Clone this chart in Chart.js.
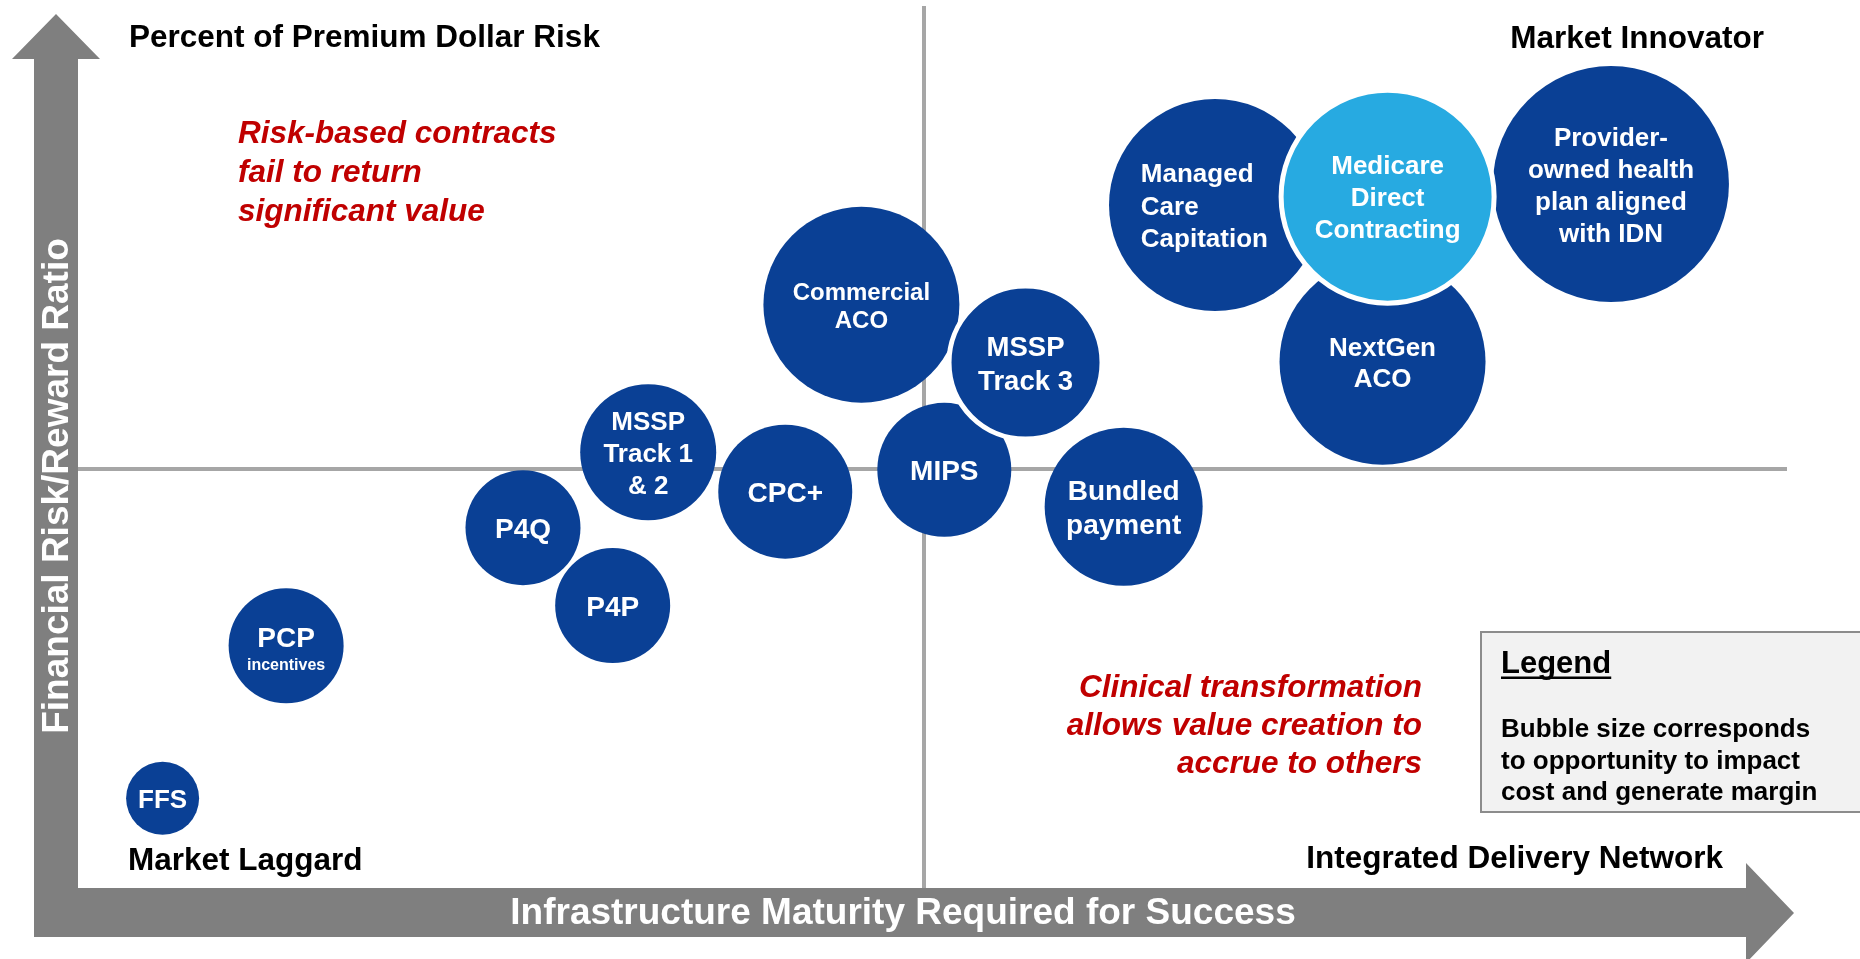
<!DOCTYPE html>
<html>
<head>
<meta charset="utf-8">
<title>Financial risk vs infrastructure maturity</title>
<script src="https://cdn.jsdelivr.net/npm/chart.js@4.4.1/dist/chart.umd.min.js"></script>
<style>
  html, body { margin: 0; padding: 0; background: #fff; }
  #wrap { width: 1860px; height: 959px; position: relative; }
</style>
</head>
<body>
<div id="wrap"><canvas id="riskChart"></canvas></div>
<script>
// payment models, in drawing order (later ones sit on top of earlier ones)
const models = ['FFS', 'PCP incentives', 'P4Q', 'P4P', 'MSSP Track 1 & 2', 'CPC+', 'Commercial ACO',
    'MIPS', 'MSSP Track 3', 'Bundled payment', 'Managed Care Capitation', 'NextGen ACO',
    'Provider-owned health plan aligned with IDN', 'Medicare Direct Contracting'];
const labelLines = [['FFS'], ['PCP', 'incentives'], ['P4Q'], ['P4P'], ['MSSP', 'Track 1', '& 2'], ['CPC+'],
    ['Commercial', 'ACO'], ['MIPS'], ['MSSP', 'Track 3'], ['Bundled', 'payment'], ['Managed', 'Care', 'Capitation'],
    ['NextGen', 'ACO'], ['Provider-', 'owned health', 'plan aligned', 'with IDN'], ['Medicare', 'Direct', 'Contracting']];
// infrastructure maturity required for success (0-100)
const maturity = [5.0, 12.3, 26.3, 31.6, 33.7, 41.8, 46.3, 51.2, 56.0, 61.8, 67.2, 77.1, 90.6, 77.4];
// financial risk/reward ratio (0-100)
const riskRatio = [10.7, 28.9, 43.0, 33.7, 52.0, 47.3, 69.6, 49.9, 62.7, 45.5, 81.5, 62.8, 84.0, 82.5];
// bubble size = opportunity to impact cost and generate margin
const opportunity = [36.5, 57.5, 57.5, 57.5, 68, 67, 98, 67, 76.5, 79, 106, 103, 118, 106.5];

// styles
const BLUE = '#0A4095';
const LIGHT_BLUE = '#27AAE1';
const GREY_ARROW = '#7F7F7F';
const GREY_LINE = '#A6A6A6';
const RED = '#C00000';
const FONT = '"Liberation Sans", Arial, Helvetica, sans-serif';
const bubbleFill = models.map(m => m === 'Medicare Direct Contracting' ? LIGHT_BLUE : BLUE);
const bubbleBorder = models.map(m => (m === 'Medicare Direct Contracting' || m === 'MSSP Track 3') ? 5 : 0);
const labelSize = [[26], [28, 16], [28], [28], [26], [28], [24], [28], [27.5], [28], [26], [26], [26], [26]];
const labelLead = [0, 26.5, 0, 0, 32, 0, 28.5, 0, 34, 34, 32.3, 31.6, 32, 32];
const labelShiftY = [0, 4, 0, 0, 0, 0, 0, 0, 0, 0, 0, 0, 0, 0];
const labelAlignLeft = models.map(m => m === 'Managed Care Capitation');

function text(ctx, str, x, y, font, color, align, baseline) {
    ctx.font = font;
    ctx.fillStyle = color;
    ctx.textAlign = align || 'left';
    ctx.textBaseline = baseline || 'alphabetic';
    ctx.fillText(str, x, y);
}

// arrows, quadrant lines, captions and the legend box, all under the bubbles
const backdropPlugin = {
    id: 'backdrop',
    beforeDatasetsDraw(chart) {
        const ctx = chart.ctx;
        const xs = chart.scales.x, ys = chart.scales.y;
        ctx.save();

        // L-shaped axis arrows
        ctx.fillStyle = GREY_ARROW;
        ctx.beginPath();
        ctx.moveTo(56, 14);
        ctx.lineTo(100, 59);
        ctx.lineTo(78, 59);
        ctx.lineTo(78, 888);
        ctx.lineTo(1746, 888);
        ctx.lineTo(1746, 863);
        ctx.lineTo(1794, 913);
        ctx.lineTo(1746, 963);
        ctx.lineTo(1746, 937);
        ctx.lineTo(34, 937);
        ctx.lineTo(34, 59);
        ctx.lineTo(12, 59);
        ctx.closePath();
        ctx.fill();

        // quadrant split at the middle of both scales
        const midX = xs.getPixelForValue(50), midY = ys.getPixelForValue(50);
        ctx.strokeStyle = GREY_LINE;
        ctx.lineWidth = 4;
        ctx.beginPath();
        ctx.moveTo(midX, 6);
        ctx.lineTo(midX, 888);
        ctx.moveTo(78, midY);
        ctx.lineTo(1787, midY);
        ctx.stroke();

        // axis titles inside the arrows
        text(ctx, 'Infrastructure Maturity Required for Success', 903, 914, 'bold 37px ' + FONT, '#FFFFFF', 'center', 'middle');
        ctx.save();
        ctx.translate(57, 486);
        ctx.rotate(-Math.PI / 2);
        text(ctx, 'Financial Risk/Reward Ratio', 0, 1, 'bold 37px ' + FONT, '#FFFFFF', 'center', 'middle');
        ctx.restore();

        // quadrant captions
        const capFont = 'bold 31.5px ' + FONT;
        text(ctx, 'Percent of Premium Dollar Risk', 129, 47, capFont, '#000');
        text(ctx, 'Market Innovator', 1764, 48, capFont, '#000', 'right');
        text(ctx, 'Market Laggard', 128, 870, capFont, '#000');
        text(ctx, 'Integrated Delivery Network', 1723, 868, capFont, '#000', 'right');

        // red call-outs
        const redFont = 'italic bold 31.5px ' + FONT;
        ['Risk-based contracts', 'fail to return', 'significant value'].forEach((s, i) =>
            text(ctx, s, 238, 143 + i * 38.8, redFont, RED));
        ['Clinical transformation', 'allows value creation to', 'accrue to others'].forEach((s, i) =>
            text(ctx, s, 1422, 697 + i * 38, redFont, RED, 'right'));

        // legend box
        ctx.fillStyle = '#F2F2F2';
        ctx.fillRect(1481, 632, 400, 180);
        ctx.strokeStyle = '#8C8C8C';
        ctx.lineWidth = 2;
        ctx.strokeRect(1481, 632, 400, 180);
        text(ctx, 'Legend', 1501, 673, 'bold 31px ' + FONT, '#000');
        const w = ctx.measureText('Legend').width;
        ctx.fillStyle = '#000';
        ctx.fillRect(1501, 676.5, w, 2.5);
        ['Bubble size corresponds', 'to opportunity to impact', 'cost and generate margin'].forEach((s, i) =>
            text(ctx, s, 1501, 737 + i * 31.5, 'bold 26px ' + FONT, '#000'));

        ctx.restore();
    }
};

// white labels centred on each bubble
const bubbleLabelPlugin = {
    id: 'bubbleLabels',
    afterDatasetsDraw(chart) {
        const ctx = chart.ctx;
        const meta = chart.getDatasetMeta(0);
        ctx.save();
        meta.data.forEach((pt, i) => {
            const lines = labelLines[i];
            const lead = labelLead[i];
            const leftAligned = labelAlignLeft[i];
            let x = pt.x;
            if (leftAligned) x = pt.x - pt.options.radius * 0.7;
            lines.forEach((line, j) => {
                const size = labelSize[i][j] || labelSize[i][0];
                // 'middle' sits a touch high for caps, nudge down
                const y = pt.y + 2.5 + labelShiftY[i] + (j - (lines.length - 1) / 2) * lead;
                text(ctx, line, x, y, 'bold ' + size + 'px ' + FONT, '#FFFFFF', leftAligned ? 'left' : 'center', 'middle');
            });
        });
        ctx.restore();
    }
};

new Chart(document.getElementById('riskChart'), {
    type: 'bubble',
    data: {
        datasets: [{
            label: 'Payment models',
            data: models.map((m, i) => ({ x: maturity[i], y: riskRatio[i], r: opportunity[i] })),
            backgroundColor: bubbleFill,
            borderColor: '#FFFFFF',
            borderWidth: bubbleBorder,
            clip: false
        }]
    },
    options: {
        responsive: true,
        maintainAspectRatio: false,
        animation: false,
        events: [],
        devicePixelRatio: 1,
        layout: {
            autoPadding: false,   // bubble overflow padding would shrink the plot area
            padding: { left: 78, right: 90, top: 50, bottom: 71 }
        },
        plugins: {
            legend: { display: false },
            tooltip: { enabled: false }
        },
        scales: {
            x: { type: 'linear', min: 0, max: 100, display: false },
            y: { type: 'linear', min: 0, max: 100, display: false }
        }
    },
    plugins: [backdropPlugin, bubbleLabelPlugin]
});
</script>
</body>
</html>
